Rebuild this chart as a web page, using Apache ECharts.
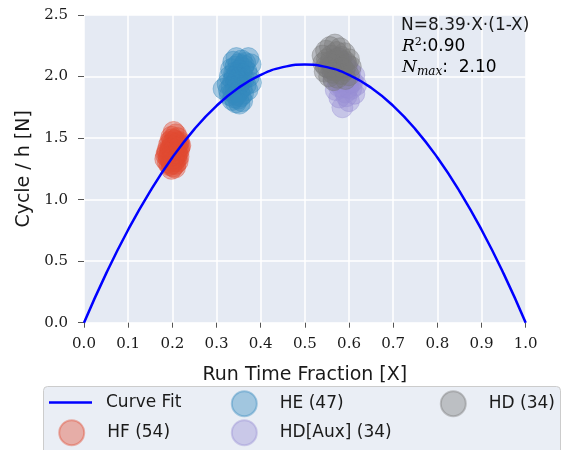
<!DOCTYPE html>
<html><head><meta charset="utf-8">
<script src="https://cdn.jsdelivr.net/npm/echarts@6/dist/echarts.min.js"></script>
<style>html,body{margin:0;padding:0;background:#fff}#c{width:562px;height:450px}</style>
</head><body><div id="c"></div>
<script>
// ---- data ----
const fitX = [0,0.05,0.1,0.15,0.2,0.25,0.3,0.35,0.4,0.45,0.5,0.55,0.6,0.65,0.7,0.75,0.8,0.85,0.9,0.95,1.0];
const fitY = [0,0.3985,0.7551,1.0697,1.3424,1.5731,1.7619,1.9087,2.0136,2.0765,2.0975,2.0765,2.0136,1.9087,1.7619,1.5731,1.3424,1.0697,0.7551,0.3985,0];
const hfPts = [
 [0.203,1.55],[0.208,1.53],[0.198,1.51],[0.212,1.50],[0.205,1.48],[0.195,1.47],
 [0.215,1.47],[0.201,1.46],[0.209,1.45],[0.218,1.44],[0.192,1.44],[0.204,1.43],
 [0.212,1.42],[0.197,1.42],[0.206,1.41],[0.189,1.40],[0.215,1.40],[0.200,1.39],
 [0.208,1.39],[0.194,1.38],[0.211,1.37],[0.203,1.37],[0.186,1.36],[0.198,1.36],
 [0.214,1.35],[0.205,1.35],[0.191,1.34],[0.200,1.33],[0.209,1.33],[0.184,1.33],
 [0.196,1.32],[0.204,1.31],[0.212,1.31],[0.190,1.30],[0.199,1.29],[0.207,1.29],
 [0.194,1.28],[0.202,1.27],[0.198,1.25],[0.206,1.26],[0.210,1.38],[0.202,1.40],
 [0.196,1.41],[0.207,1.44],[0.213,1.46],[0.200,1.49],[0.206,1.38],[0.193,1.35],
 [0.201,1.36],[0.209,1.36],[0.197,1.39],[0.203,1.34],[0.188,1.38],[0.216,1.43]
];
const hePts = [
 [0.345,2.15],[0.372,2.15],[0.357,2.13],[0.338,2.12],[0.365,2.11],[0.350,2.10],
 [0.377,2.10],[0.343,2.08],[0.360,2.07],[0.333,2.06],[0.352,2.05],[0.368,2.04],
 [0.340,2.03],[0.357,2.02],[0.346,2.01],[0.373,2.00],[0.330,2.00],[0.350,1.99],
 [0.362,1.98],[0.338,1.97],[0.355,1.96],[0.378,1.95],[0.344,1.95],[0.325,1.94],
 [0.366,1.93],[0.350,1.93],[0.334,1.92],[0.357,1.91],[0.316,1.90],[0.343,1.90],
 [0.370,1.89],[0.328,1.89],[0.351,1.88],[0.338,1.87],[0.360,1.86],[0.345,1.85],
 [0.330,1.85],[0.355,1.84],[0.340,1.83],[0.349,1.82],[0.336,1.81],[0.358,1.80],
 [0.344,1.79],[0.352,1.78],[0.362,2.09],[0.347,1.97],[0.341,2.00]
];
const hdAuxPts = [
 [0.585,1.75],[0.600,1.80],[0.578,1.83],[0.612,1.86],[0.592,1.87],[0.570,1.89],
 [0.605,1.90],[0.585,1.91],[0.616,1.93],[0.597,1.94],[0.575,1.95],[0.608,1.96],
 [0.588,1.97],[0.565,1.98],[0.600,1.99],[0.580,2.00],[0.612,2.01],[0.592,2.02],
 [0.570,2.03],[0.603,2.04],[0.584,2.05],[0.560,2.06],[0.596,2.07],[0.575,2.08],
 [0.590,2.10],[0.565,2.11],[0.582,2.13],[0.572,2.15],[0.594,1.84],[0.577,1.92],
 [0.605,1.95],[0.590,2.00],[0.598,1.91],[0.583,1.96]
];
const hdPts = [
 [0.568,2.26],[0.557,2.24],[0.580,2.23],[0.548,2.21],[0.572,2.20],[0.590,2.19],
 [0.540,2.17],[0.560,2.17],[0.582,2.16],[0.600,2.14],[0.550,2.14],[0.570,2.13],
 [0.592,2.12],[0.542,2.11],[0.562,2.10],[0.580,2.09],[0.604,2.08],[0.553,2.07],
 [0.572,2.06],[0.590,2.05],[0.545,2.04],[0.563,2.03],[0.582,2.02],[0.600,2.01],
 [0.555,2.00],[0.574,1.99],[0.592,1.98],[0.565,1.97],[0.585,2.07],[0.558,2.12],
 [0.576,2.15],[0.566,2.05],[0.595,2.10],[0.548,2.08]
];
const seriesNames = ['Curve Fit','HF (54)','HE (47)','HD[Aux] (34)','HD (34)'];
const annotation = ['N=8.39·X·(1-X)', '0.90', '2.10'];

// ---- chart ----
const chart = echarts.init(document.getElementById('c'), null, {renderer:'canvas'});
const serifF = 'DejaVu Serif';
const sansF = 'DejaVu Sans';
const txt = '#1a1a1a';
function scat(name, pts, rgb){
  return {type:'scatter', name, data: pts, symbolSize: 21, z: 2,
    itemStyle:{color:'rgba('+rgb+',0.5)', borderColor:'rgba('+rgb+',0.5)', borderWidth:1}};
}
const legendText = {fontFamily:sansF,fontSize:17,color:txt,padding:[0,0,0,18]};
function circLegend(name, cx, cy){
  return {data:[{name, icon:'circle'}], left:cx-12.5, top:cy-12.5, itemWidth:25, itemHeight:25,
    padding:0, selectedMode:false, textStyle:legendText};
}
chart.setOption({
  animation:false,
  grid:{left:84, right:36.3, top:15, bottom:127.3, show:true, backgroundColor:'#e5eaf3', borderWidth:0},
  xAxis:{type:'value', min:0, max:1, interval:0.1,
    name:'Run Time Fraction [X]', nameLocation:'middle', nameGap:43,
    nameTextStyle:{fontFamily:sansF,fontSize:19,color:txt},
    axisLine:{show:false}, axisTick:{show:true,length:5,lineStyle:{color:'#555',width:1}},
    axisLabel:{formatter:v=>v.toFixed(1), fontFamily:serifF, fontSize:15, color:txt, margin:14},
    splitLine:{show:true,lineStyle:{color:'#ffffff',width:1.5}}},
  yAxis:{type:'value', min:0, max:2.5, interval:0.5,
    name:'Cycle / h [N]', nameLocation:'middle', nameGap:46,
    nameTextStyle:{fontFamily:sansF,fontSize:19,color:txt},
    axisLine:{show:false}, axisTick:{show:true,length:6,lineStyle:{color:'#555',width:1}},
    axisLabel:{formatter:v=>v.toFixed(1), fontFamily:serifF, fontSize:15, color:txt, margin:16},
    splitLine:{show:true,lineStyle:{color:'#ffffff',width:1.5}}},
  legend:[
    {data:[{name:seriesNames[0],icon:'rect'}], left:49, top:394, itemWidth:43, itemHeight:2.5,
      padding:0, selectedMode:false, textStyle:{fontFamily:sansF,fontSize:17,color:txt,padding:[0,0,0,9]}},
    circLegend(seriesNames[1], 70.7, 431.7),
    circLegend(seriesNames[2], 243.3, 402.7),
    circLegend(seriesNames[3], 243.3, 431.7),
    circLegend(seriesNames[4], 452.3, 402.7)
  ],
  graphic:[
    {type:'rect', z:0, shape:{x:43.5, y:386.5, width:517, height:70, r:4},
      style:{fill:'#eaeef5', stroke:'#cccccc', lineWidth:1}},
    {type:'text', z:10, x:401, y:26, style:{text:annotation[0], font:'17px "DejaVu Sans"', fill:txt, verticalAlign:'middle'}},
    {type:'text', z:10, x:402, y:47, style:{
      text:'{i|R}{sup|2}{s|:'+annotation[1]+'}', verticalAlign:'middle',
      rich:{i:{fontFamily:serifF,fontStyle:'italic',fontSize:17,color:txt},
            sup:{fontFamily:serifF,fontSize:11,color:txt,padding:[0,0,9,0]},
            s:{fontFamily:sansF,fontSize:17,color:txt}}}},
    {type:'text', z:10, x:402, y:68, style:{
      text:'{i|N}{sub|max}{s|:  '+annotation[2]+'}', verticalAlign:'middle',
      rich:{i:{fontFamily:serifF,fontStyle:'italic',fontSize:17,color:txt},
            sub:{fontFamily:serifF,fontStyle:'italic',fontSize:12,color:txt,padding:[7,0,0,0]},
            s:{fontFamily:sansF,fontSize:17,color:txt}}}}
  ],
  series:[
    {type:'line', name:seriesNames[0], data:fitX.map((x,i)=>[x,fitY[i]]), smooth:true, showSymbol:false, symbol:'none', z:5,
      lineStyle:{color:'#0000ff',width:2.5}, itemStyle:{color:'#0000ff'}},
    scat(seriesNames[1], hfPts, '226,74,51'),
    scat(seriesNames[2], hePts, '52,138,189'),
    scat(seriesNames[3], hdAuxPts, '152,142,213'),
    scat(seriesNames[4], hdPts, '119,119,119')
  ]
});
</script></body></html>
